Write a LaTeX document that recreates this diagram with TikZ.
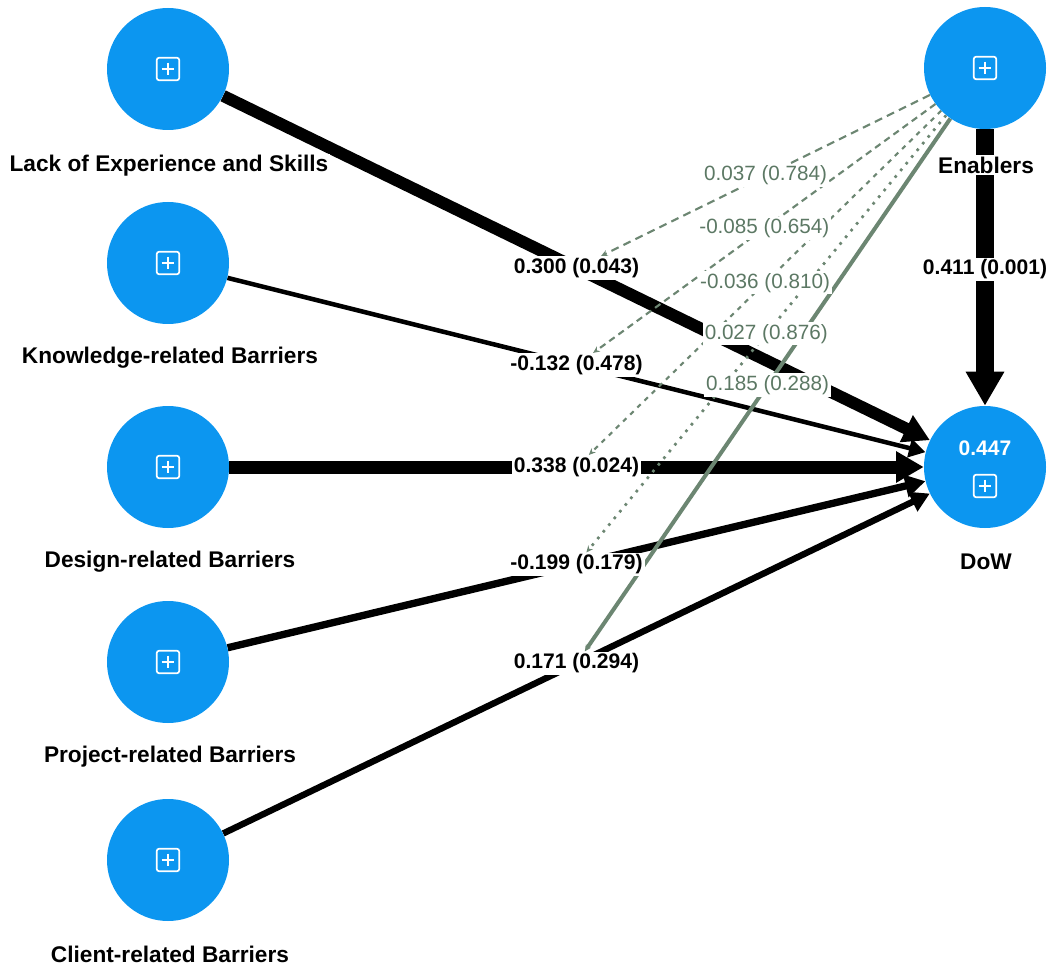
\documentclass[tikz,border=0pt]{standalone}
\usepackage{fontspec}
\setmainfont{Liberation Sans}
\usetikzlibrary{arrows.meta,calc}
\pgfdeclarelayer{edges}
\pgfsetlayers{edges,main}
\definecolor{lvblue}{RGB}{12,150,240}
\definecolor{modgreen}{RGB}{108,134,114}
\definecolor{modtext}{RGB}{92,120,100}
\tikzset{
  lv/.style={circle, fill=lvblue, minimum size=91.5pt, inner sep=0pt},
  lvname/.style={fill=white, inner sep=1pt, font=\fontsize{17}{20}\selectfont\bfseries},
  coef/.style={fill=white, inner sep=1.5pt, font=\fontsize{15.8}{18}\selectfont\bfseries},
  modcoef/.style={fill=white, inner sep=1.5pt, text=modtext, font=\fontsize{15.5}{18}\selectfont},
  effect/.style={line width=#1, -{Triangle[length=8pt 1.3, width=9pt 1.35]}},
  moder/.style={modgreen, line width=1.6pt, -{Stealth[length=5pt, width=4.5pt]}},
  plusbox/.style={draw=white, line width=1.3pt, rounded corners=2pt, minimum size=17pt, inner sep=0pt,
    path picture={\draw[white, line width=1.3pt] ([yshift=-3.8pt]path picture bounding box.north) -- ([yshift=3.8pt]path picture bounding box.south) ([xshift=3.8pt]path picture bounding box.west) -- ([xshift=-3.8pt]path picture bounding box.east);}}
}

\begin{document}
\begin{tikzpicture}[x=0.75pt,y=0.75pt,yscale=-1,xscale=1]
\useasboundingbox (0,0) rectangle (1057,966);

%Shape: Circle
\node[lv] (lack) at (168,69) {};
\node[lv] (knowledge) at (168,263) {};
\node[lv] (design) at (168,467) {};
\node[lv] (project) at (168,662) {};
\node[lv] (client) at (168,860) {};
\node[lv] (enablers) at (985,68) {};
\node[lv] (dow) at (985,467) {};

%Shape: Icons
\node[plusbox] (lackicon) at (lack) {};
\node[plusbox] (knowledgeicon) at (knowledge) {};
\node[plusbox] (designicon) at (design) {};
\node[plusbox] (projecticon) at (project) {};
\node[plusbox] (clienticon) at (client) {};
\node[plusbox] (enablersicon) at (enablers) {};
\node[plusbox] (dowicon) at ($(dow)+(0,19)$) {};
\node[font=\fontsize{15.8}{18}\selectfont\bfseries, text=white] (dowr2) at ($(dow)+(0,-19)$) {0.447};

% Text Node
\node[coef] (c1) at ($(lack)!0.5!(dow)$) {0.300 (0.043)};
\node[coef] (c2) at ($(knowledge)!0.5!(dow)$) {-0.132 (0.478)};
\node[coef] (c3) at ($(design)!0.5!(dow)$) {0.338 (0.024)};
\node[coef] (c4) at ($(project)!0.5!(dow)$) {-0.199 (0.179)};
\node[coef] (c5) at ($(client)!0.5!(dow)$) {0.171 (0.294)};
\node[coef] (c6) at ($(enablers)!0.5!(dow)+(0,2)$) {0.411 (0.001)};

\begin{pgfonlayer}{edges}
%Straight Lines
\draw[effect=9pt] (lack) -- (dow);
\draw[effect=3.4pt] (knowledge) -- (dow);
\draw[effect=9.75pt] (design) -- (dow);
\draw[effect=5.5pt] (project) -- (dow);
\draw[effect=4.8pt] (client) -- (dow);
\draw[effect=13.5pt] (enablers) -- (dow);
%Moderating Lines
\draw[moder, dash pattern=on 6pt off 4pt] (enablers) -- coordinate[midway] (m1) (c1);
\draw[moder, dash pattern=on 5pt off 3.5pt] (enablers) -- coordinate[midway] (m2) (c2);
\draw[moder, dash pattern=on 3.5pt off 4pt] (enablers) -- coordinate[midway] (m3) (c3);
\draw[moder, line width=2pt, dash pattern=on 2pt off 4.5pt] (enablers) -- coordinate[midway] (m4) (c4);
\draw[moder, line width=3pt] (enablers) -- coordinate[midway] (m5) (c5);
\end{pgfonlayer}

% Text Node
\node[modcoef] (g1) at (m1) {0.037 (0.784)};
\node[modcoef] (g2) at (m2) {-0.085 (0.654)};
\node[modcoef] (g3) at (m3) {-0.036 (0.810)};
\node[modcoef] (g4) at (m4) {0.027 (0.876)};
\node[modcoef] (g5) at (m5) {0.185 (0.288)};

% Text Node
\node[lvname] (lackname) at (169,166) {Lack of Experience and Skills};
\node[lvname] (knowledgename) at (170,358) {Knowledge-related Barriers};
\node[lvname] (designname) at (170,562) {Design-related Barriers};
\node[lvname] (projectname) at (170,757) {Project-related Barriers};
\node[lvname] (clientname) at (170,954) {Client-related Barriers};
\node[lvname] (enablersname) at (986,165) {Enablers};
\node[lvname] (downame) at (986,562) {DoW};

\end{tikzpicture}
\end{document}
